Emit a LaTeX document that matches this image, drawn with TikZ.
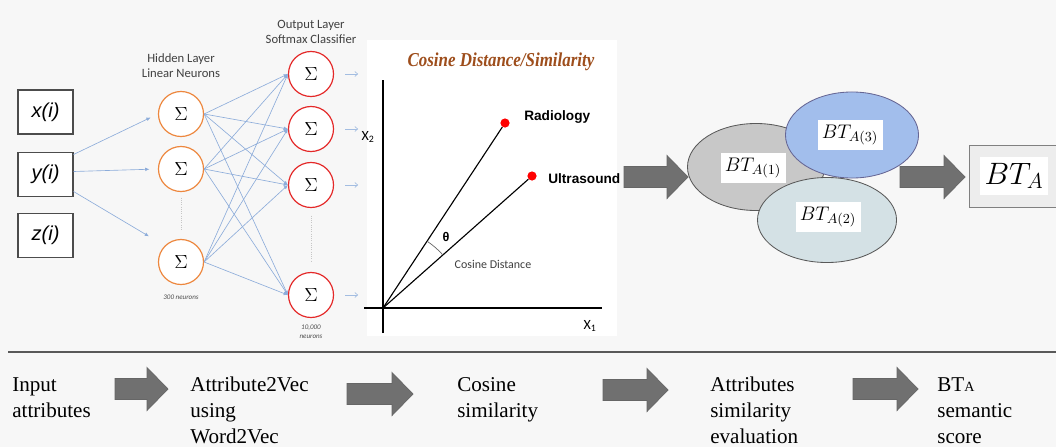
\RequirePackage{fix-cm}
\documentclass[tikz,border=0pt]{standalone}
\usepackage{fontspec}
\setmainfont{Liberation Serif}
\newfontfamily\calibfont{Carlito}
\newfontfamily\arialfont{Liberation Sans}
\usetikzlibrary{shapes.geometric,arrows.meta}

\definecolor{pagebg}{RGB}{247,247,247}
\definecolor{nnblue}{RGB}{140,172,218}
\definecolor{nnorange}{RGB}{237,135,62}
\definecolor{nnred}{RGB}{228,40,40}
\definecolor{titlebrown}{RGB}{158,78,28}
\definecolor{arrgray}{RGB}{112,112,112}
\definecolor{ellgray}{RGB}{200,200,200}
\definecolor{ellblue}{RGB}{162,190,236}
\definecolor{ellpale}{RGB}{212,225,229}

\tikzset{
	inbox/.style={draw=black!70, line width=0.75pt, fill=white, minimum width=1.375cm, minimum height=1.1cm, font=\arialfont\itshape\fontsize{14.3}{16}\selectfont},
	hidneuron/.style={circle, draw=nnorange, line width=0.85pt, fill=white, minimum size=1.125cm, inner sep=0pt, font=\fontsize{13.5}{15}\selectfont},
	outneuron/.style={hidneuron, draw=nnred},
	nnedge/.style={draw=nnblue, line width=0.45pt, -{Latex[length=3pt,width=2.6pt]}},
	outedge/.style={draw=nnblue!80, line width=0.45pt, -{Straight Barb[length=2pt,width=3.5pt]}},
	nndots/.style={draw=gray!45, densely dotted, line width=0.6pt},
	layerlab/.style={align=center, text=black!75, font=\calibfont\fontsize{9}{10.7}\selectfont},
	tinylab/.style={align=center, text=black!70, font=\calibfont\itshape\fontsize{5}{6.4}\selectfont},
	dot/.style={circle, fill=red, minimum size=0.23cm, inner sep=0pt},
	wordlab/.style={anchor=west, inner sep=0pt, font=\arialfont\bfseries\fontsize{9.7}{11}\selectfont},
	axislab/.style={font=\calibfont\fontsize{10}{12}\selectfont},
	bubble/.style={ellipse, draw=black!65, line width=0.6pt},
	btlab/.style={fill=white, minimum width=1.625cm, minimum height=0.75cm, inner sep=2pt, font=\fontsize{14}{16}\selectfont},
	bigarrow/.style={fill=arrgray, draw=black!60, line width=0.5pt},
	steptext/.style={anchor=north west, align=left, inner sep=0pt, font=\fontsize{15}{18.5}\selectfont}
}

% block arrow: left x, tip x, centre y
\newcommand{\grayarrow}[3]{%
	\draw[bigarrow] (#1,#3-10.5) -- (#2-21,#3-10.5) -- (#2-21,#3-21.5) -- (#2,#3)
		-- (#2-21,#3+21.5) -- (#2-21,#3+10.5) -- (#1,#3+10.5) -- cycle;}

\begin{document}
\begin{tikzpicture}[x=0.025cm, y=-0.025cm]

	\fill[pagebg] (0,0) rectangle (1056,447);
	\useasboundingbox (0,0) rectangle (1056,447);
	\fill[white] (367,40) rectangle (617,336);

	% Inputs
	\node[inbox] (xi) at (45.5,112) {x(i)};
	\node[inbox] (yi) at (45.5,174.5) {y(i)};
	\node[inbox] (zi) at (45.5,235.5) {z(i)};

	% Hidden layer
	\node[hidneuron] (h1) at (181,114) {$\Sigma$};
	\node[hidneuron] (h2) at (181,169) {$\Sigma$};
	\node[hidneuron] (h3) at (181,262) {$\Sigma$};
	\node[layerlab] (hlab) at (181,66) {Hidden Layer\\Linear Neurons};
	\node[tinylab] (hcount) at (181,297) {300 neurons};

	% Output layer
	\node[outneuron] (o1) at (311,74) {$\Sigma$};
	\node[outneuron] (o2) at (311,129) {$\Sigma$};
	\node[outneuron] (o3) at (311,185) {$\Sigma$};
	\node[outneuron] (o4) at (311,295) {$\Sigma$};
	\node[layerlab] (olab) at (311,32) {Output Layer\\Softmax Classifier};
	\node[tinylab] (ocount) at (311,332) {10,000\\neurons};

	% Edges
	\draw[nnedge, shorten >=5.7pt] ([yshift=20*0.025cm]yi.east) -- (h1.west);
	\draw[nnedge, shorten >=6pt] ([yshift=3*0.025cm]yi.east) -- (h2.west);
	\draw[nnedge, shorten >=13pt] ([yshift=-17*0.025cm]yi.east) -- (h3.north west);
	\foreach \h in {1,2,3}
		\foreach \o in {1,...,4}
			\draw[nnedge] (h\h.east) -- (o\o.west);
	\foreach \o in {1,...,4}
		\draw[outedge] ([xshift=0.28cm]o\o.east) -- ([xshift=0.6cm]o\o.east);
	\draw[nndots, shorten <=0.14cm, shorten >=0.19cm] (h2) -- (h3);
	\draw[nndots, shorten <=0.19cm, shorten >=0.24cm] (o3) -- (o4);

	% Cosine plot
	\node[font=\bfseries\itshape\fontsize{14}{16}\selectfont, text=titlebrown, xscale=0.86] (ptitle) at (501,62) {Cosine Distance/Similarity};
	\coordinate (O) at (383,308);
	\draw[line width=1.4pt] (383,333) -- (383,80);
	\draw[line width=1.4pt] (364,308) -- (602,308);
	\node[axislab] (xtwo) at (368,137) {X\textsubscript{2}};
	\node[axislab] (xone) at (590,326) {X\textsubscript{1}};
	\node[dot] (rad) at (505,123) {};
	\node[dot] (ult) at (532,176) {};
	\draw[line width=0.8pt] (O) -- (rad);
	\draw[line width=0.8pt] (O) -- (ult);
	\draw[black!60, line width=0.5pt] ([shift={(-56.6:80)}]O) arc[start angle=-56.6, end angle=-41.5, radius=80];
	\node[wordlab] (radlab) at (524,117) {Radiology};
	\node[wordlab] (ultlab) at (548,179) {Ultrasound};
	\node[font=\arialfont\bfseries\fontsize{9}{10}\selectfont] (theta) at (446,237) {θ};
	\node[axislab, text=black!75, font=\calibfont\fontsize{8.5}{10}\selectfont] (cdist) at (493,264) {Cosine Distance};

	% Similarity bubbles
	\grayarrow{624}{688}{177}
	\node[bubble, fill=ellgray, minimum width=3.425cm, minimum height=2.175cm] (e1) at (756,167) {};
	\node[bubble, fill=ellblue, draw=black!70!blue!60, minimum width=3.325cm, minimum height=2.15cm] (e3) at (852,135) {};
	\node[bubble, fill=ellpale, minimum width=3.475cm, minimum height=2.125cm] (e2) at (827,220) {};
	\node[btlab] (l1) at (753,168) {$BT_{A(1)}$};
	\node[btlab] (l3) at (850,135) {$BT_{A(3)}$};
	\node[btlab] (l2) at (828,217) {$BT_{A(2)}$};

	% Result
	\grayarrow{900}{965}{177}
	\node[draw=black!50, line width=0.7pt, fill=black!7, minimum width=2.3cm, minimum height=1.55cm] (bta) at (1015,176) {};
	\node[fill=white, minimum width=1.7cm, minimum height=0.95cm, font=\fontsize{22}{24}\selectfont] (btalab) at (1014,176) {$BT_A$};

	\draw[black!65, line width=0.9pt] (8,352) -- (1056,352);

	% Steps
	\node[steptext] (s1) at (12,377) {Input\\attributes};
	\node[steptext] (s2) at (190,377) {Attribute2Vec\\using\\Word2Vec};
	\node[steptext] (s3) at (457,377) {Cosine\\similarity};
	\node[steptext] (s4) at (710,377) {Attributes\\similarity\\evaluation};
	\node[steptext] (s5) at (937,377) {BT{\fontsize{10}{12}\selectfont A}\\semantic\\score};
	\grayarrow{115}{168}{389}
	\grayarrow{347}{413}{394}
	\grayarrow{603}{668}{390}
	\grayarrow{853}{918}{389}
\end{tikzpicture}
\end{document}
